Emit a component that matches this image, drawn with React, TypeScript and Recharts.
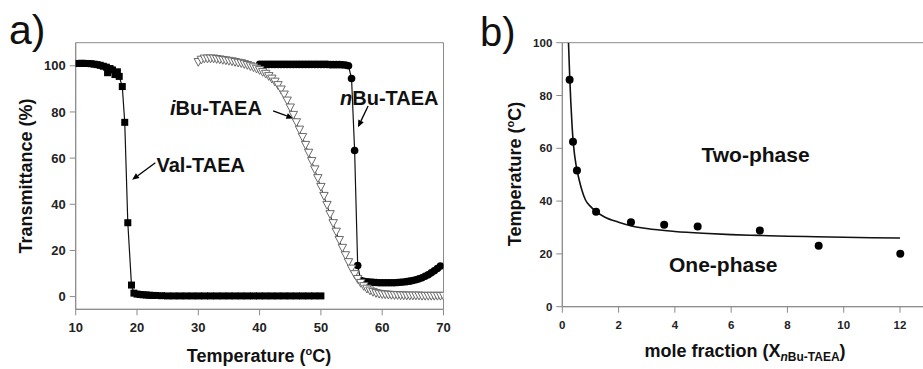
import React from 'react'
import {
  ComposedChart, Line, Scatter, XAxis, YAxis, ReferenceArea, ReferenceLine,
} from 'recharts'

// panel a) transmittance vs temperature
const valTaea: [number, number][] = [
  [10, 101], [10.5, 101], [11, 101.1], [11.5, 101], [12, 101], [12.5, 100.9], [13, 100.7],
  [13.5, 100.5], [14, 100.2], [14.5, 99.8], [15, 99.4], [15.2, 97], [15.6, 98.8], [16, 98.2],
  [16.4, 96.2], [16.8, 97.4], [17.1, 95.4], [17.6, 91], [18, 75.5], [18.5, 32], [19.1, 5],
  [19.5, 1.5], [20, 1.1], [20.5, 0.9], [21, 0.8], [21.5, 0.7], [22, 0.6], [22.5, 0.5],
  [23, 0.5], [24, 0.4], [25, 0.3], [26, 0.3], [27, 0.3], [28, 0.3], [29, 0.3], [30, 0.3],
  [31, 0.3], [32, 0.3], [33, 0.3], [34, 0.3], [35, 0.3], [36, 0.3], [37, 0.3], [38, 0.3],
  [39, 0.3], [40, 0.3], [41, 0.3], [42, 0.3], [43, 0.3], [44, 0.3], [45, 0.3], [46, 0.3],
  [47, 0.3], [48, 0.3], [49, 0.3], [50, 0.3],
]

const iBuTaea: [number, number][] = [
  [30, 101.5], [30.5, 102.5], [31, 103], [31.5, 103], [32, 103], [32.5, 103], [33, 102.8],
  [33.5, 102.6], [34, 102.4], [34.5, 102.2], [35, 102], [35.5, 101.8], [36, 101.5],
  [36.5, 101.2], [37, 101], [37.5, 100.6], [38, 100.2], [38.5, 99.7], [39, 99.2],
  [39.5, 98.6], [40, 98], [40.5, 97.2], [41, 96.4], [41.5, 95.4], [42, 94.3], [42.5, 93],
  [43, 91.5], [43.5, 89.6], [44, 87.4], [44.5, 84.8], [45, 81.8], [45.5, 78.6], [46, 75.4],
  [46.5, 72.2], [47, 69], [47.5, 65.6], [48, 62.2], [48.5, 58.6], [49, 55], [49.5, 51.2],
  [50, 47.4], [50.5, 43.5], [51, 39.6], [51.5, 35.6], [52, 31.7], [52.5, 28], [53, 24.4],
  [53.5, 21], [54, 17.8], [54.5, 14.8], [55, 12], [55.5, 9.6], [56, 7.5], [56.5, 5.8],
  [57, 4.4], [57.5, 3.3], [58, 2.5], [58.5, 1.9], [59, 1.4], [59.5, 1.1], [60, 0.9],
  [60.5, 0.8], [61, 0.7], [61.5, 0.6], [62, 0.5], [62.5, 0.5], [63, 0.4], [63.5, 0.4],
  [64, 0.3], [64.5, 0.3], [65, 0.3], [65.5, 0.3], [66, 0.3], [66.5, 0.2], [67, 0.2],
  [67.5, 0.2], [68, 0.2], [68.5, 0.2], [69, 0.2], [69.5, 0.2], [70, 0.2],
]

const nBuTaea: [number, number][] = [
  [40, 100.6], [40.5, 100.6], [41, 100.6], [41.5, 100.6], [42, 100.6], [42.5, 100.6],
  [43, 100.6], [43.5, 100.6], [44, 100.6], [44.5, 100.6], [45, 100.6], [45.5, 100.6],
  [46, 100.6], [46.5, 100.6], [47, 100.6], [47.5, 100.6], [48, 100.6], [48.5, 100.6],
  [49, 100.6], [49.5, 100.6], [50, 100.6], [50.5, 100.6], [51, 100.6], [51.5, 100.5],
  [52, 100.5], [52.5, 100.5], [53, 100.5], [53.5, 100.4], [54, 100.3], [54.5, 100],
  [55, 94.5], [55.5, 63.3], [56, 13.5], [56.5, 7], [57, 6.6], [57.5, 6.4], [58, 6.3],
  [58.5, 6.2], [59, 6.1], [59.5, 6], [60, 6], [60.5, 6], [61, 6], [61.5, 6], [62, 6],
  [62.5, 6.1], [63, 6.2], [63.5, 6.3], [64, 6.5], [64.5, 6.7], [65, 7], [65.5, 7.3],
  [66, 7.7], [66.5, 8.2], [67, 8.8], [67.5, 9.5], [68, 10.3], [68.5, 11.2], [69, 12.2],
  [69.5, 13.2],
]

const tempTicks = [10, 20, 30, 40, 50, 60, 70]
const transTicks = [0, 20, 40, 60, 80, 100]

// panel b) phase diagram
const cloudPoints: [number, number][] = [
  [0.26, 86], [0.38, 62.5], [0.52, 51.6], [1.2, 36], [2.44, 32], [3.62, 31], [4.81, 30.4],
  [7.02, 28.9], [9.11, 23.1], [12.01, 20.1],
]
const fitCurve: [number, number][] = [
  [0.22, 100], [0.26, 88], [0.3, 78], [0.35, 68], [0.4, 61], [0.5, 53], [0.6, 48],
  [0.7, 44], [0.82, 40.5], [1, 38], [1.2, 36], [1.5, 34], [2, 32], [2.5, 30.5], [3, 29.6],
  [4, 28.5], [5, 27.8], [6, 27.3], [7, 27], [8, 26.7], [9, 26.5], [10, 26.3], [11, 26.1],
  [12, 26],
]
const fracTicks = [0, 2, 4, 6, 8, 10, 12]
const bTempTicks = [0, 20, 40, 60, 80, 100]

const toXY = (arr: [number, number][]) => arr.map(([x, y]) => ({ x, y }))

const FONT = 'Liberation Sans, Arial, Helvetica, sans-serif'
const AXIS = '#8a8a8a'

const Square = (p: any) => (
  <rect key={`s${p.index}`} x={p.cx - 3.5} y={p.cy - 3.5} width={7} height={7} fill="#000" />
)
const Dot = (p: any) => <circle key={`c${p.index}`} cx={p.cx} cy={p.cy} r={3.8} fill="#000" />
const TriDown = (p: any) => (
  <polygon
    key={`t${p.index}`}
    points={`${p.cx - 4.2},${p.cy - 3.8} ${p.cx + 4.2},${p.cy - 3.8} ${p.cx},${p.cy + 4}`}
    fill="#fff"
    stroke="#6a6a6a"
    strokeWidth={1}
  />
)

const Arrow = (p: any) => {
  const { x1, y1, x2, y2 } = p
  const a = Math.atan2(y2 - y1, x2 - x1)
  const bx = x2 - 7 * Math.cos(a)
  const by = y2 - 7 * Math.sin(a)
  const px = -Math.sin(a) * 3
  const py = Math.cos(a) * 3
  return (
    <g>
      <line x1={x1} y1={y1} x2={bx} y2={by} stroke="#000" strokeWidth={1.3} />
      <polygon points={`${x2},${y2} ${bx + px},${by + py} ${bx - px},${by - py}`} fill="#000" />
    </g>
  )
}

export default function App() {
  const tickA = { fontSize: 13, fontWeight: 700, fill: '#222', fontFamily: FONT }
  const tickB = { fontSize: 11.5, fontWeight: 700, fill: '#222', fontFamily: FONT }
  return (
    <div style={{ position: 'absolute', left: 0, top: 0, width: 923, height: 369, overflow: 'hidden', background: '#fff' }}>
      <div style={{ position: 'absolute', left: 0, top: 0 }}>
        <ComposedChart width={460} height={369} margin={{ top: 42.7, right: 16.5, bottom: 29.7, left: 35.7 }}>
          <XAxis type="number" dataKey="x" domain={[10, 70]} ticks={tempTicks} allowDataOverflow height={30}
            tick={tickA} tickSize={6} tickMargin={7} axisLine={{ stroke: AXIS }} tickLine={{ stroke: AXIS }} />
          <YAxis type="number" dataKey="y" domain={[-5.5, 110]} ticks={transTicks} allowDataOverflow width={40}
            tick={tickA} tickSize={6} tickMargin={4} axisLine={{ stroke: AXIS }} tickLine={{ stroke: AXIS }} />
          <ReferenceArea x1={10} x2={70} y1={-5.5} y2={110} fill="none" stroke={AXIS} strokeWidth={1} />
          <Line data={toXY(valTaea)} dataKey="y" stroke="#111" strokeWidth={1.2} dot={Square} activeDot={false} isAnimationActive={false} />
          <Line data={toXY(nBuTaea)} dataKey="y" stroke="#111" strokeWidth={1.2} dot={Dot} activeDot={false} isAnimationActive={false} />
          <Line data={toXY(iBuTaea)} dataKey="y" stroke="#333" strokeWidth={1} dot={TriDown} activeDot={false} isAnimationActive={false} />
          <ReferenceLine segment={[{ x: 23, y: 58 }, { x: 19.2, y: 50.6 }]} shape={Arrow} />
          <ReferenceLine segment={[{ x: 42.2, y: 80.5 }, { x: 45.5, y: 77.2 }]} shape={Arrow} />
          <ReferenceLine segment={[{ x: 57.7, y: 82.6 }, { x: 56.05, y: 73.4 }]} shape={Arrow} />
        </ComposedChart>
      </div>
      <div style={{ position: 'absolute', left: 460, top: 0 }}>
        <ComposedChart width={520} height={369} margin={{ top: 42.7, right: 23.7, bottom: 32.3, left: 62.3 }}>
          <XAxis type="number" dataKey="x" domain={[0, 14]} ticks={fracTicks} allowDataOverflow height={30}
            tick={tickB} tickSize={6} tickMargin={8} axisLine={{ stroke: AXIS }} tickLine={{ stroke: AXIS }} />
          <YAxis type="number" dataKey="y" domain={[0, 100]} ticks={bTempTicks} allowDataOverflow width={40}
            tick={tickB} tickSize={6} tickMargin={4} axisLine={{ stroke: AXIS }} tickLine={{ stroke: AXIS }} />
          <ReferenceArea x1={0} x2={14} y1={0} y2={100} fill="none" stroke={AXIS} strokeWidth={1} />
          <Line data={toXY(fitCurve)} dataKey="y" type="monotone" stroke="#111" strokeWidth={1.6} dot={false} activeDot={false} isAnimationActive={false} />
          <Scatter data={toXY(cloudPoints)} dataKey="y" fill="#000" isAnimationActive={false}
            shape={(p: any) => <circle cx={p.cx} cy={p.cy} r={4} fill="#000" />} />
        </ComposedChart>
      </div>
      <svg width={923} height={369} style={{ position: 'absolute', left: 0, top: 0, pointerEvents: 'none' }} fontFamily={FONT}>
        <text x={9} y={44} fontSize={41} fill="#111">a)</text>
        <text x={480} y={46} fontSize={40} fill="#111">b)</text>
        <g fontWeight={700} fill="#111">
          <text x={156.5} y={171.7} fontSize={20}>Val-TAEA</text>
          <text x={170} y={115} fontSize={20}><tspan fontStyle="italic">i</tspan>Bu-TAEA</text>
          <text x={340} y={105} fontSize={20}><tspan fontStyle="italic">n</tspan>Bu-TAEA</text>
          <text x={701.5} y={161.7} fontSize={21}>Two-phase</text>
          <text x={669} y={271.7} fontSize={21}>One-phase</text>
          <text x={259} y={361.5} fontSize={18} textAnchor="middle">
            Temperature (<tspan fontSize={11} dy={-7}>o</tspan><tspan dy={7}>C)</tspan>
          </text>
          <text transform="translate(32,176) rotate(-90)" fontSize={18} textAnchor="middle">Transmittance (%)</text>
          <text transform="translate(521,174) rotate(-90)" fontSize={18} textAnchor="middle">
            Temperature (<tspan fontSize={11} dy={-7}>o</tspan><tspan dy={7}>C)</tspan>
          </text>
          <text x={745} y={356.5} fontSize={18} textAnchor="middle">
            mole fraction (X<tspan fontSize={12} dy={4}><tspan fontStyle="italic">n</tspan>Bu-TAEA</tspan><tspan dy={-4}>)</tspan>
          </text>
        </g>
      </svg>
    </div>
  )
}
